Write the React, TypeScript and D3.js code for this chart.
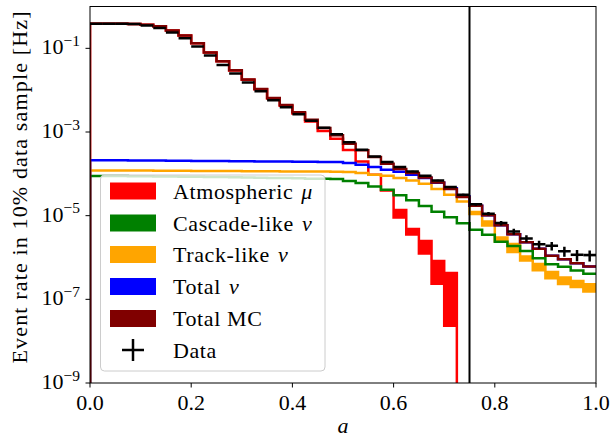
import React from "react";
import * as d3 from "d3";

// 40 equal bins on [0, 1]
const binEdges = d3.range(41).map((i) => i / 40);

const totalMC = [
  0.385, 0.385, 0.385, 0.3813, 0.3648, 0.3357, 0.2664, 0.2022, 0.1323, 0.0793,
  0.0491, 0.0299, 0.0179, 0.01072, 0.00653, 0.00444, 0.00295, 0.00197, 0.00125, 8.4e-4,
  5.26e-4, 3.64e-4, 2.53e-4, 1.75e-4, 1.3e-4, 1.046e-4, 8.21e-5, 6.23e-5, 4.33e-5, 2.79e-5,
  1.725e-5, 1.022e-5, 5.89e-6, 3.59e-6, 2.33e-6, 1.613e-6, 1.097e-6, 9.05e-7, 7.26e-7, 6.08e-7,
];

const dataRate = [
  0.385, 0.385, 0.385, 0.381, 0.3509, 0.3057, 0.2385, 0.1743, 0.1103, 0.0672,
  0.0398, 0.0249, 0.01517, 0.00939, 0.00578, 0.00393, 0.00267, 0.00187, 0.00127, 8.88e-4,
  5.65e-4, 3.78e-4, 2.61e-4, 1.92e-4, 1.456e-4, 1.143e-4, 9.02e-5, 6.96e-5, 4.84e-5, 3.16e-5,
  1.874e-5, 1.11e-5, 6.65e-6, 4.18e-6, 2.85e-6, 2.07e-6, 1.9e-6, 1.42e-6, 1.16e-6, 1.14e-6,
];

const dataErr = [
  2e-4, 2e-4, 2e-4, 2e-4, 2e-4, 1.8e-4, 1.6e-4, 1.3e-4, 1.1e-4, 8e-5,
  6.5e-5, 5e-5, 4e-5, 3e-5, 2.5e-5, 2e-5, 1.7e-5, 1.4e-5, 1.15e-5, 9.6e-6,
  7.7e-6, 6.3e-6, 5.2e-6, 4.5e-6, 3.9e-6, 3.4e-6, 3.1e-6, 2.7e-6, 2.2e-6, 1.8e-6,
  1.4e-6, 1.07e-6, 8.3e-7, 6.6e-7, 5.4e-7, 4.6e-7, 4.4e-7, 3.8e-7, 3.5e-7, 3.4e-7,
];

const totalNu = [
  2.12e-4, 2.12e-4, 2.106e-4, 2.095e-4, 2.084e-4, 2.073e-4, 2.061e-4, 2.05e-4, 2.039e-4, 2.027e-4,
  2.016e-4, 2.005e-4, 1.994e-4, 1.983e-4, 1.972e-4, 1.961e-4, 1.95e-4, 1.939e-4, 1.928e-4, 1.908e-4,
  1.816e-4, 1.653e-4, 1.456e-4, 1.255e-4, 1.124e-4, 9.53e-5, 7.94e-5, 6.16e-5, 4.5e-5, 2.91e-5,
  1.72e-5, 1.02e-5, 5.88e-6, 3.58e-6, 2.33e-6, 1.61e-6, 1.096e-6, 9.04e-7, 7.25e-7, 6.07e-7,
];

const cascadeNu = [
  8.92e-5, 8.87e-5, 8.82e-5, 8.77e-5, 8.72e-5, 8.68e-5, 8.63e-5, 8.53e-5, 8.49e-5, 8.39e-5,
  8.35e-5, 8.25e-5, 8.16e-5, 8.07e-5, 7.99e-5, 7.9e-5, 7.81e-5, 7.68e-5, 7.6e-5, 7.52e-5,
  6.73e-5, 6.03e-5, 5.0e-5, 4.17e-5, 3.08e-5, 2.34e-5, 1.707e-5, 1.24e-5, 9.11e-6, 6.58e-6,
  4.6e-6, 3.49e-6, 2.37e-6, 1.873e-6, 1.421e-6, 9.66e-7, 6.87e-7, 5.98e-7, 4.88e-7, 4.07e-7,
];

const trackNuUpper = [
  1.207e-4, 1.207e-4, 1.201e-4, 1.201e-4, 1.194e-4, 1.188e-4, 1.188e-4, 1.181e-4, 1.175e-4, 1.168e-4,
  1.168e-4, 1.162e-4, 1.155e-4, 1.155e-4, 1.149e-4, 1.143e-4, 1.136e-4, 1.136e-4, 1.13e-4, 1.124e-4,
  1.105e-4, 1.046e-4, 9.53e-5, 9.02e-5, 7.94e-5, 6.96e-5, 5.8e-5, 4.33e-5, 3.16e-5, 2.19e-5,
  1.226e-5, 7.26e-6, 3.01e-6, 2.1e-6, 1.055e-6, 6.98e-7, 4.49e-7, 3.32e-7, 2.74e-7, 2.28e-7,
];

const trackNuLower = [
  1.207e-4, 1.207e-4, 1.201e-4, 1.201e-4, 1.194e-4, 1.188e-4, 1.188e-4, 1.181e-4, 1.175e-4, 1.168e-4,
  1.168e-4, 1.162e-4, 1.155e-4, 1.155e-4, 1.149e-4, 1.143e-4, 1.136e-4, 1.136e-4, 1.13e-4, 1.124e-4,
  1.105e-4, 1.046e-4, 9.53e-5, 9.02e-5, 7.94e-5, 6.96e-5, 5.8e-5, 4.33e-5, 3.16e-5, 2.19e-5,
  1.092e-5, 5.79e-6, 2.44e-6, 1.345e-6, 8.42e-7, 4.93e-7, 3.21e-7, 2.31e-7, 1.98e-7, 1.53e-7,
];

const atmMuUpper = [
  0.3852, 0.3852, 0.3852, 0.3811, 0.3646, 0.3355, 0.2662, 0.202, 0.1321, 0.0791,
  0.0489, 0.0297, 0.0177, 0.01052, 0.00633, 0.00424, 0.00275, 0.00178, 0.00106, 6.9e-4,
  3.7e-4, 1.98e-4, 9.5e-5, 4.0e-5, 1.369e-5, 4.81e-6, 2.48e-6, 8.23e-7, 4.25e-7, 0,
  0, 0, 0, 0, 0, 0, 0, 0, 0, 0,
];

const atmMuLower = [
  0.3852, 0.3852, 0.3852, 0.3811, 0.3646, 0.3355, 0.2662, 0.202, 0.1321, 0.0791,
  0.0489, 0.0297, 0.0177, 0.01052, 0.00633, 0.00424, 0.00275, 0.00178, 0.00106, 6.9e-4,
  3.7e-4, 1.98e-4, 9.5e-5, 4.0e-5, 9.01e-6, 3.53e-6, 1.238e-6, 2.37e-7, 2.34e-8, 0,
  0, 0, 0, 0, 0, 0, 0, 0, 0, 0,
];

const cutValue = 0.75;

const xTicks = [0, 0.2, 0.4, 0.6, 0.8, 1.0];
const xTickLabels = ["0.0", "0.2", "0.4", "0.6", "0.8", "1.0"];
const yTicks = [1e-9, 1e-7, 1e-5, 1e-3, 1e-1];
const yTickExps = ["\u22129", "\u22127", "\u22125", "\u22123", "\u22121"];

const legendLabels = ["Atmospheric ", "Cascade-like ", "Track-like ", "Total ", "Total MC", "Data"];
const legendGreek = ["\u03bc", "\u03bd", "\u03bd", "\u03bd", "", ""];
const legendColors = ["#ff0000", "#008000", "#ffa500", "#0000ff", "#800000", "#000000"];

const FONT = "'Liberation Serif', 'DejaVu Serif', serif";

export default function App() {
  const W = 611, H = 437;
  const L = 90, R = 596, T = 6.5, B = 383;
  const x = d3.scaleLinear().domain([0, 1]).range([L, R]);
  const y = d3.scaleLog().domain([1e-9, 1]).range([B, T]);
  const Y = (v: number) => (v > 0 ? y(v) : B + 30);
  const line = d3.line();

  const bandPath = (hi: number[], lo: number[]) => {
    const pts: [number, number][] = [[x(0), B + 30]];
    hi.forEach((v, i) => {
      pts.push([x(binEdges[i]), Y(v)]);
      pts.push([x(binEdges[i + 1]), Y(v)]);
    });
    for (let i = lo.length - 1; i >= 0; i--) {
      pts.push([x(binEdges[i + 1]), Y(lo[i])]);
      pts.push([x(binEdges[i]), Y(lo[i])]);
    }
    pts.push([x(0), B + 30]);
    return line(pts) + "Z";
  };

  const series = [
    { hi: atmMuUpper, lo: atmMuLower, c: "#ff0000" },
    { hi: trackNuUpper, lo: trackNuLower, c: "#ffa500" },
    { hi: cascadeNu, lo: cascadeNu, c: "#008000" },
    { hi: totalNu, lo: totalNu, c: "#0000ff" },
    { hi: totalMC, lo: totalMC, c: "#800000" },
  ];

  const legendY = [191, 223, 254.5, 286.5, 318.5, 350];

  return (
    <svg width={W} height={H} style={{ position: "absolute", left: 0, top: 0, background: "#fff" }} fontFamily={FONT}>
      <defs>
        <clipPath id="plotclip">
          <rect x={L} y={T} width={R - L} height={B - T} />
        </clipPath>
      </defs>
      <rect x={0} y={0} width={W} height={H} fill="#fff" />
      <g clipPath="url(#plotclip)">
        {series.map((s, k) => (
          <path key={k} d={bandPath(s.hi, s.lo)} fill={s.c} stroke={s.c} strokeWidth={2.5} />
        ))}
        {dataRate.map((v, i) => {
          const cx = x((binEdges[i] + binEdges[i + 1]) / 2);
          return (
            <g key={"d" + i} stroke="#000" strokeWidth={2.5}>
              <line x1={x(binEdges[i])} x2={x(binEdges[i + 1])} y1={Y(v)} y2={Y(v)} />
              <line x1={cx} x2={cx} y1={Y(v + dataErr[i])} y2={Y(Math.max(v - dataErr[i], 1e-12))} />
            </g>
          );
        })}
        <line x1={x(cutValue)} x2={x(cutValue)} y1={T} y2={B} stroke="#000" strokeWidth={2} />
      </g>
      {/* axes frame */}
      <rect x={L} y={T} width={R - L} height={B - T} fill="none" stroke="#000" strokeWidth={1} />
      {xTicks.map((t, i) => (
        <g key={"xt" + i}>
          <line x1={x(t)} x2={x(t)} y1={B} y2={B + 4.5} stroke="#000" strokeWidth={1} />
          <text x={x(t)} y={410} fontSize={22} textAnchor="middle" fill="#000">{xTickLabels[i]}</text>
        </g>
      ))}
      {yTicks.map((t, i) => (
        <g key={"yt" + i}>
          <line x1={L - 4.5} x2={L} y1={y(t)} y2={y(t)} stroke="#000" strokeWidth={1} />
          <text x={80} y={y(t) + 6} fontSize={22} textAnchor="end" fill="#000">
            10<tspan dy={-8.5} fontSize={15.5}>{yTickExps[i]}</tspan>
          </text>
        </g>
      ))}
      <text x={(L + R) / 2} y={433} fontSize={22} fontStyle="italic" textAnchor="middle" fill="#000">a</text>
      <text transform="translate(27,187.5) rotate(-90)" fontSize={22} textAnchor="middle" fill="#000"
        textLength={352} lengthAdjust="spacing">
        Event rate in 10% data sample [Hz]
      </text>
      {/* legend */}
      <rect x={100.5} y={175} width={224.5} height={196} rx={4} fill="#fff" fillOpacity={0.8} stroke="#cccccc" strokeWidth={1} />
      {legendLabels.map((lab, i) => (
        <g key={"lg" + i}>
          {i < 5 ? (
            <rect x={110} y={legendY[i] - 8.5} width={46} height={17} fill={legendColors[i]} />
          ) : (
            <g stroke="#000" strokeWidth={2.5}>
              <line x1={122} x2={144} y1={legendY[i]} y2={legendY[i]} />
              <line x1={133} x2={133} y1={legendY[i] - 11} y2={legendY[i] + 11} />
            </g>
          )}
          <text x={173} y={legendY[i] + 7.5} fontSize={22} fill="#000" letterSpacing={0.6}>
            {lab}
            {legendGreek[i] ? <tspan fontStyle="italic" dx={2}>{legendGreek[i]}</tspan> : null}
          </text>
        </g>
      ))}
    </svg>
  );
}
